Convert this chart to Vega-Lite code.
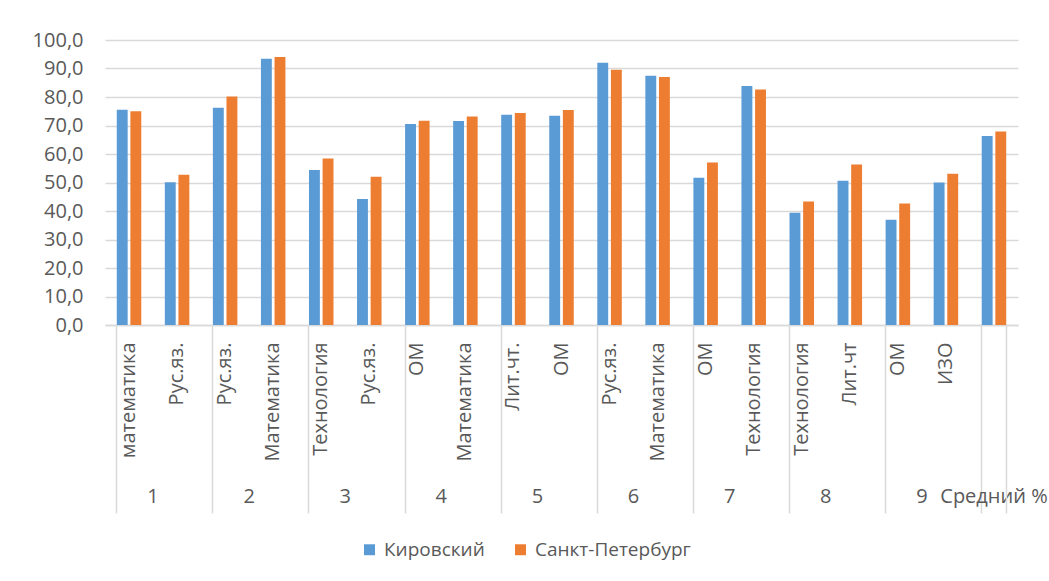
{
  "$schema": "https://vega.github.io/schema/vega-lite/v6.json",
  "autosize": "none",
  "width": 913,
  "height": 285,
  "padding": {"left": 105, "top": 40, "right": 31, "bottom": 256},
  "background": "#ffffff",
  "config": {
    "view": {"stroke": null},
    "font": "Open Sans",
    "axis": {"labelColor": "#595959", "labelFont": "Open Sans"},
    "legend": {"labelColor": "#595959", "labelFont": "Open Sans"}
  },
  "data": {
    "values": [
      {"cat": "01|1|математика", "series": "Кировский", "value": 75.5},
      {"cat": "01|1|математика", "series": "Санкт-Петербург", "value": 75.0},
      {"cat": "02|1|Рус.яз.", "series": "Кировский", "value": 50.1},
      {"cat": "02|1|Рус.яз.", "series": "Санкт-Петербург", "value": 52.7},
      {"cat": "03|2|Рус.яз.", "series": "Кировский", "value": 76.2},
      {"cat": "03|2|Рус.яз.", "series": "Санкт-Петербург", "value": 80.2},
      {"cat": "04|2|Математика", "series": "Кировский", "value": 93.4},
      {"cat": "04|2|Математика", "series": "Санкт-Петербург", "value": 94.0},
      {"cat": "05|3|Технология", "series": "Кировский", "value": 54.4},
      {"cat": "05|3|Технология", "series": "Санкт-Петербург", "value": 58.4},
      {"cat": "06|3|Рус.яз.", "series": "Кировский", "value": 44.2},
      {"cat": "06|3|Рус.яз.", "series": "Санкт-Петербург", "value": 52.0},
      {"cat": "07|4|ОМ", "series": "Кировский", "value": 70.5},
      {"cat": "07|4|ОМ", "series": "Санкт-Петербург", "value": 71.7},
      {"cat": "08|4|Математика", "series": "Кировский", "value": 71.6},
      {"cat": "08|4|Математика", "series": "Санкт-Петербург", "value": 73.2},
      {"cat": "09|5|Лит.чт.", "series": "Кировский", "value": 73.8},
      {"cat": "09|5|Лит.чт.", "series": "Санкт-Петербург", "value": 74.4},
      {"cat": "10|5|ОМ", "series": "Кировский", "value": 73.4},
      {"cat": "10|5|ОМ", "series": "Санкт-Петербург", "value": 75.4},
      {"cat": "11|6|Рус.яз.", "series": "Кировский", "value": 92.0},
      {"cat": "11|6|Рус.яз.", "series": "Санкт-Петербург", "value": 89.6},
      {"cat": "12|6|Математика", "series": "Кировский", "value": 87.5},
      {"cat": "12|6|Математика", "series": "Санкт-Петербург", "value": 87.0},
      {"cat": "13|7|ОМ", "series": "Кировский", "value": 51.7},
      {"cat": "13|7|ОМ", "series": "Санкт-Петербург", "value": 57.0},
      {"cat": "14|7|Технология", "series": "Кировский", "value": 83.9},
      {"cat": "14|7|Технология", "series": "Санкт-Петербург", "value": 82.6},
      {"cat": "15|8|Технология", "series": "Кировский", "value": 39.4},
      {"cat": "15|8|Технология", "series": "Санкт-Петербург", "value": 43.3},
      {"cat": "16|8|Лит.чт", "series": "Кировский", "value": 50.6},
      {"cat": "16|8|Лит.чт", "series": "Санкт-Петербург", "value": 56.3},
      {"cat": "17|9|ОМ", "series": "Кировский", "value": 36.9},
      {"cat": "17|9|ОМ", "series": "Санкт-Петербург", "value": 42.6},
      {"cat": "18|9|ИЗО", "series": "Кировский", "value": 50.0},
      {"cat": "18|9|ИЗО", "series": "Санкт-Петербург", "value": 53.1},
      {"cat": "19|Средний %|", "series": "Кировский", "value": 66.3},
      {"cat": "19|Средний %|", "series": "Санкт-Петербург", "value": 67.9}
    ]
  },
  "resolve": {"axis": {"x": "independent"}},
  "layer": [
    {
      "mark": {"type": "bar"},
      "encoding": {
        "x": {
          "field": "cat", "type": "nominal", "sort": "ascending",
          "scale": {"paddingInner": 0.49, "paddingOuter": 0.245},
          "axis": {
            "orient": "bottom",
            "title": null, "ticks": false, "tickSize": 0, "grid": false,
            "domain": true, "domainColor": "#d9d9d9", "domainWidth": 1.5,
            "labelAngle": 270, "labelAlign": "right", "labelBaseline": "middle",
            "labelPadding": 17, "labelFontSize": 20, "labelLimit": 200, "labelOverlap": false,
            "labelExpr": "split(datum.value, '|')[2]"
          }
        },
        "xOffset": {"field": "series", "type": "nominal", "scale": {"paddingInner": 0.2, "paddingOuter": 0}},
        "y": {
          "field": "value", "type": "quantitative",
          "scale": {"domain": [0, 100], "nice": false},
          "axis": {
            "title": null, "values": [0, 10, 20, 30, 40, 50, 60, 70, 80, 90, 100],
            "grid": true, "gridColor": "#d9d9d9", "gridWidth": 1.5,
            "domain": false, "ticks": false, "labelPadding": 22, "labelFontSize": 20,
            "labelOverlap": false,
            "labelExpr": "replace(format(datum.value, '.1f'), '.', ',')"
          }
        },
        "color": {
          "field": "series", "type": "nominal",
          "scale": {"domain": ["Кировский", "Санкт-Петербург"], "range": ["#5b9bd5", "#ed7d31"]},
          "legend": {
            "title": null, "orient": "none", "direction": "horizontal",
            "legendX": 255, "legendY": 500,
            "symbolType": "square", "symbolSize": 120, "symbolStrokeWidth": 0,
            "labelFontSize": 19, "columnPadding": 26, "labelOffset": 5
          }
        }
      }
    },
    {
      "mark": {"type": "bar", "opacity": 0},
      "encoding": {
        "x": {
          "field": "cat", "type": "nominal", "sort": "ascending",
          "axis": {
            "orient": "bottom",
            "title": null, "grid": false, "domain": false, "labelOverlap": false,
            "values": ["01|1|математика", "03|2|Рус.яз.", "05|3|Технология", "07|4|ОМ", "09|5|Лит.чт.", "11|6|Рус.яз.", "13|7|ОМ", "15|8|Технология", "17|9|ОМ", "19|Средний %|"],
            "bandPosition": 0, "ticks": true, "tickSize": 188, "tickColor": "#d9d9d9", "tickWidth": 1.5,
            "labelAngle": 0, "labelAlign": "center", "labelBaseline": "top",
            "labelPadding": -27, "labelFontSize": 20,
            "labelOffset": {"condition": {"test": "datum.value == '19|Средний %|'", "value": 0}, "value": 24},
            "labelExpr": "split(datum.value, '|')[1]"
          }
        }
      }
    },
    {
      "mark": {"type": "bar", "opacity": 0},
      "encoding": {
        "x": {
          "field": "cat", "type": "nominal", "sort": "ascending",
          "axis": {
            "orient": "bottom",
            "title": null, "grid": false, "domain": false, "labels": false,
            "values": ["19|Средний %|"],
            "bandPosition": 1, "ticks": true, "tickSize": 188, "tickColor": "#d9d9d9", "tickWidth": 1.5
          }
        }
      }
    }
  ]
}
